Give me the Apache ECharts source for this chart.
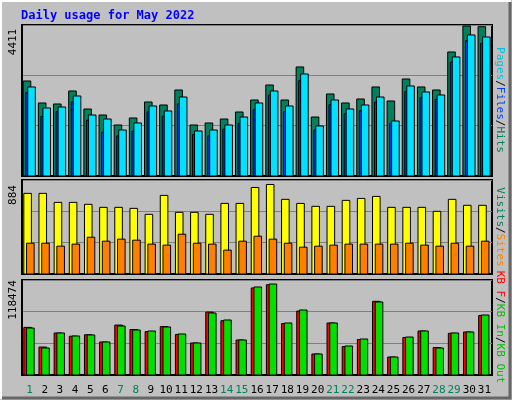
<!DOCTYPE html>
<html><head><meta charset="utf-8">
<script src="https://cdn.jsdelivr.net/npm/echarts@6/dist/echarts.min.js"></script>
<style>html,body{margin:0;padding:0;background:#C0C0C0}#c{width:512px;height:400px}</style>
</head><body><div id="c"></div>
<script>
const days = ['1','2','3','4','5','6','7','8','9','10','11','12','13','14','15','16','17','18','19','20','21','22','23','24','25','26','27','28','29','30','31'];
const weekend = ['1','7','8','14','15','21','22','28','29'];
const hits  = [2794,2147,2118,2500,1970,1794,1500,1706,2176,2088,2529,1500,1559,1676,1882,2235,2676,2235,3206,1735,2412,2147,2265,2618,2206,2853,2618,2529,3647,4411,4390];
const files = [2618,2000,2029,2353,1794,1676,1353,1559,2059,1912,2323,1324,1353,1500,1735,2147,2500,2059,3000,1471,2235,1971,2088,2323,1618,2647,2471,2382,3500,4147,4088];
const pages = [2450,1750,1900,2180,1640,1290,1180,1310,1900,1760,2120,1220,1180,1380,1550,1950,2380,1890,2800,1350,2100,1830,1920,2170,1550,2480,2300,2250,3350,3980,3900];
const visits = [796,796,707,707,688,658,658,648,589,776,609,609,589,697,697,854,884,737,697,668,668,727,746,766,658,658,658,619,737,678,678];
const sites  = [304,304,275,295,363,324,344,334,295,285,393,304,295,236,324,373,344,304,265,275,285,295,295,295,295,304,285,275,304,275,324];
const kbOut = [62000,36400,54680,50500,52400,42963,65000,59200,56500,63000,52800,41661,81900,70700,45567,113300,117500,67000,83300,27340,67699,37000,46200,95900,23434,48800,57284,35800,54300,55982,77500];
const kbIn  = [61189,35151,54680,50774,52076,42963,63793,58586,57284,62491,53378,41661,80718,71605,45567,114567,118474,67699,84624,27340,67699,37755,46868,95039,23434,49472,57284,35151,54680,55982,78114];

const chart = echarts.init(document.getElementById('c'));
const L = 22, R = 20;
const grids = [{left:L,right:R,top:25,height:151},{left:L,right:R,top:180,height:94},{left:L,right:R,top:280,height:95}];
const maxes = [4440, 928, 123680];
function bars(gi, list){ // list: [data, color, offsetFrac, widthFrac]
  return list.map(([data,color,off,w])=>({
    type:'custom', xAxisIndex:gi, yAxisIndex:gi,
    data: data.map((v,i)=>[i,v]),
    renderItem:(p,api)=>{
      const b=api.coord([api.value(0),0]); const t=api.coord([api.value(0),api.value(1)]);
      const bw=api.size([1,0])[0];
      const x=b[0]-bw/2+bw*off;
      return {type:'rect',shape:{x:x,y:t[1],width:bw*w,height:b[1]-t[1]},
        style:{fill:color,stroke:'#000',lineWidth:1}};
    }
  }));
}
const xAxes = grids.map((g,i)=>({type:'category',gridIndex:i,data:days,boundaryGap:true,
  axisLine:{show:true,lineStyle:{color:'#000',width:2}},axisTick:{show:false},
  axisLabel:{show:i===2,interval:0,fontFamily:'DejaVu Sans Mono',fontSize:11,margin:10,
    color:(v)=>weekend.includes(v)?'#00805C':'#000'}}));
const yAxes = grids.map((g,i)=>({type:'value',gridIndex:i,min:0,max:maxes[i],interval:maxes[i]/3,
  axisLabel:{show:false},axisLine:{show:true,lineStyle:{color:'#000',width:2}},axisTick:{show:false},
  splitLine:{show:true,lineStyle:{color:'#808080',width:1}}}));
const labelY = [{t:'4411',y:42},{t:'884',y:195},{t:'118474',y:300}];
const vtext = (x,y,parts)=>({type:'text',x:x,y:y,rotation:-Math.PI/2,
  style:{rich:{a:{fill:'#00C0E0'},s:{fill:'#000'},b:{fill:'#0040FF'},c:{fill:'#00805C'},y:{fill:'#E0E000'},o:{fill:'#FF8000'},g:{fill:'#00C000'},r:{fill:'#FF0000'}},
    text:parts, font:'11px DejaVu Sans Mono', textAlign:'center', textVerticalAlign:'middle'}});
chart.setOption({
  backgroundColor:'#C0C0C0', animation:false,
  grid: grids.map(g=>Object.assign({show:true,backgroundColor:'#C0C0C0',borderColor:'#000',borderWidth:2},g)),
  xAxis:xAxes, yAxis:yAxes,
  title:{text:'Daily usage for May 2022',left:16,top:5,textStyle:{color:'#0000FF',fontFamily:'DejaVu Sans Mono',fontSize:12,fontWeight:'bold'}},
  graphic:[
    {type:'rect',shape:{x:1,y:1,width:509,height:397},style:{fill:'none',stroke:'#fff',lineWidth:2}},
    {type:'polyline',shape:{points:[[510,2],[510,398],[2,398]]},style:{stroke:'#666',lineWidth:3,fill:'none'}},
    ...labelY.map(l=>({type:'text',x:13,y:l.y,rotation:Math.PI/2,style:{text:l.t,font:'11px DejaVu Sans Mono',fill:'#000',textAlign:'center',textVerticalAlign:'middle'}})),
    vtext(500,100,'{a|Pages}{s|/}{b|Files}{s|/}{c|Hits}'),
    vtext(500,227,'{c|Visits}{s|/}{o|Sites}'),
    vtext(500,327,'{r|KB F}{s|/}{g|KB In}{s|/}{g|KB Out}')
  ],
  series:[
    ...bars(0,[[hits,'#00805C',0.08,0.5],[pages,'#0040FF',0.25,0.5],[files,'#00E0FF',0.38,0.5]]),
    ...bars(1,[[visits,'#FFFF00',0.12,0.5],[sites,'#FF8000',0.3,0.5]]),
    ...bars(2,[[kbOut,'#FF0000',0.12,0.5],[kbIn,'#00E000',0.3,0.5]])
  ]
});
</script></body></html>
